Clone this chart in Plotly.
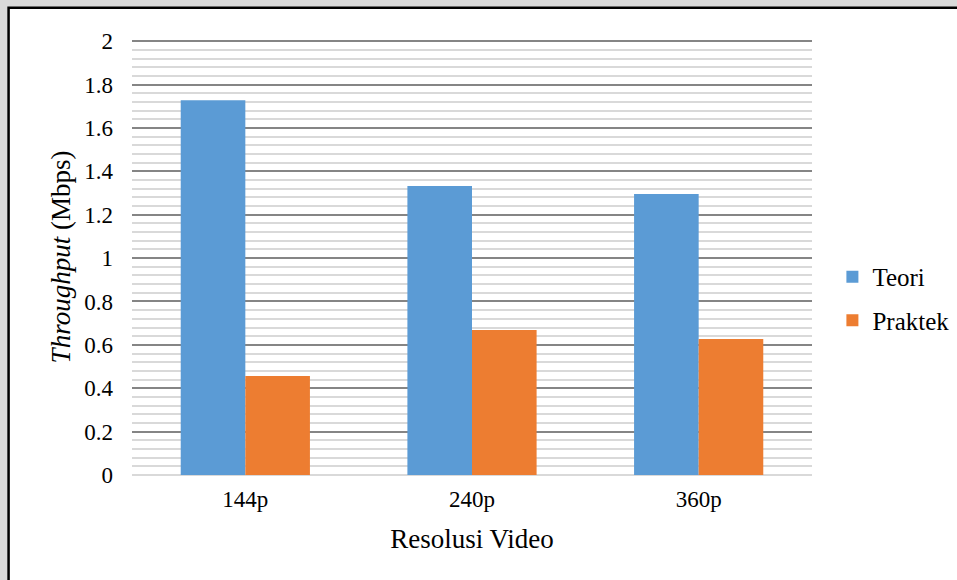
import plotly.graph_objects as go

# Throughput per video resolution: theory vs. measured
resolutions = ["144p", "240p", "360p"]
teori = [1.728, 1.332, 1.295]
praktek = [0.456, 0.668, 0.627]

y_ticks = [0, 0.2, 0.4, 0.6, 0.8, 1, 1.2, 1.4, 1.6, 1.8, 2]
y_tick_text = ["0", "0.2", "0.4", "0.6", "0.8", "1", "1.2", "1.4", "1.6", "1.8", "2"]

FONT = "Liberation Serif, Times New Roman, serif"

fig = go.Figure()
fig.add_trace(go.Bar(name="Teori", x=resolutions, y=teori,
                     marker=dict(color="#5b9bd5", line=dict(width=0)),
                     legendgroup="a"))
fig.add_trace(go.Bar(name="Praktek", x=resolutions, y=praktek,
                     marker=dict(color="#ed7d31", line=dict(width=0)),
                     legendgroup="b"))

# white chart frame with a black border over a grey page
fig.add_shape(type="rect", xref="paper", yref="paper",
              x0=-0.1815, x1=1.4, y0=-0.4, y1=1.0714,
              fillcolor="white", line=dict(color="black", width=2.5),
              layer="below")

fig.update_layout(
    width=957, height=580,
    margin=dict(l=132, r=145, t=39, b=105, autoexpand=False),
    paper_bgcolor="#dadada",
    plot_bgcolor="rgba(0,0,0,0)",
    barmode="group",
    bargap=0.43,
    bargroupgap=0,
    font=dict(family=FONT, color="black", size=23),
    showlegend=True,
    legend=dict(x=1.03, xanchor="left", y=0.405, yanchor="middle",
                font=dict(family=FONT, size=25, color="black"),
                traceorder="grouped", tracegroupgap=8,
                itemwidth=30, bgcolor="rgba(0,0,0,0)"),
    xaxis=dict(
        showgrid=False, showline=False, ticks="",
        tickfont=dict(family=FONT, size=23),
        ticklabelstandoff=8,
        title=dict(text="Resolusi Video", font=dict(family=FONT, size=27), standoff=18),
    ),
    yaxis=dict(
        range=[0, 2.01], tickvals=y_ticks, ticktext=y_tick_text,
        showgrid=True, gridcolor="#858585", gridwidth=1.5,
        minor=dict(dtick=0.04, showgrid=True, gridcolor="#d9d9d9", gridwidth=1.5),
        zeroline=True, zerolinecolor="#d9d9d9", zerolinewidth=2,
        showline=False, ticks="",
        tickfont=dict(family=FONT, size=23),
        ticklabelstandoff=18,
        title=dict(text="<i>Throughput</i> (Mbps)", font=dict(family=FONT, size=27), standoff=5),
    ),
)

fig.write_html("out.html")
